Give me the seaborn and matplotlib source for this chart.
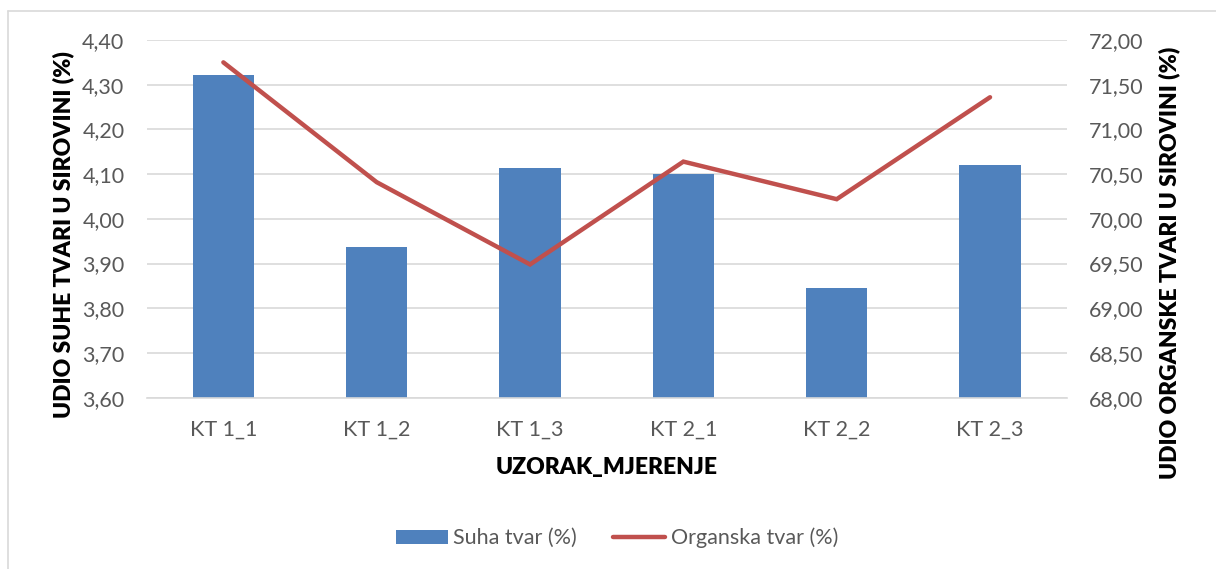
import numpy as np
import matplotlib
matplotlib.use('Agg')
import matplotlib.pyplot as plt
import pandas as pd
import seaborn as sns
from matplotlib.patches import Patch
from matplotlib.lines import Line2D
from matplotlib.ticker import FuncFormatter, MultipleLocator

# --- DATA ---
uzorci = ['KT 1_1', 'KT 1_2', 'KT 1_3', 'KT 2_1', 'KT 2_2', 'KT 2_3']
suha_tvar = [4.321, 3.936, 4.113, 4.101, 3.846, 4.121]
organska_tvar = [71.75, 70.41, 69.49, 70.64, 70.22, 71.36]

df = pd.DataFrame({'Uzorak': uzorci, 'Suha': suha_tvar, 'Organska': organska_tvar})

# Colors (Excel default palette)
COLOR_BAR = '#4F81BD'
COLOR_LINE = '#C0504D'
COLOR_GRID = '#D9D9D9'
COLOR_TEXT = '#595959'
FS_TICK = 15.5
FS_LABEL = 16.5

sns.set_style('white')
plt.rcParams['font.family'] = ['Lato', 'DejaVu Sans']

fig = plt.figure(figsize=(12.16, 5.69), dpi=100)
ax = fig.add_axes([146.7 / 1216, 1 - 397.7 / 569, 920 / 1216, 357.7 / 569])

sns.barplot(data=df, x='Uzorak', y='Suha', color=COLOR_BAR, width=0.4,
            saturation=1, edgecolor='none', ax=ax, zorder=2)

ax2 = ax.twinx()
sns.pointplot(data=df, x='Uzorak', y='Organska', color=COLOR_LINE, markers='',
              linewidth=3.2, ax=ax2)
for ln in ax2.lines:
    ln.set_solid_capstyle('round')
    ln.set_solid_joinstyle('miter')

# --- AXES ---
comma = FuncFormatter(lambda v, p: f"{v:.2f}".replace('.', ','))
ax.set_ylim(3.6, 4.4)
ax.yaxis.set_major_locator(MultipleLocator(0.1))
ax.yaxis.set_major_formatter(comma)
ax2.set_ylim(68, 72)
ax2.yaxis.set_major_locator(MultipleLocator(0.5))
ax2.yaxis.set_major_formatter(comma)
ax.set_xlim(-0.5, 5.5)

ax.yaxis.grid(True, color=COLOR_GRID, lw=1.2, zorder=0)
ax.set_axisbelow(True)
ax2.grid(False)
for a in (ax, ax2):
    for s in a.spines.values():
        s.set_visible(False)
ax.spines['bottom'].set_visible(True)
ax.spines['bottom'].set_color(COLOR_GRID)
ax.spines['bottom'].set_linewidth(1.2)

ax.tick_params(axis='both', length=0, labelsize=FS_TICK, labelcolor=COLOR_TEXT, pad=16)
ax2.tick_params(axis='y', length=0, labelsize=FS_TICK, labelcolor=COLOR_TEXT, pad=16)
ax.tick_params(axis='x', pad=16)

ax.set_xlabel('UZORAK_MJERENJE', fontsize=FS_LABEL, fontweight='heavy', color='black', va='center')
ax.xaxis.set_label_coords(0.5, -0.194)
ax.set_ylabel('UDIO SUHE TVARI U SIROVINI (%)', fontsize=FS_LABEL, fontweight='heavy',
              color='black', va='center')
ax.yaxis.set_label_coords(-0.091, 0.455)
ax2.set_ylabel('UDIO ORGANSKE TVARI U SIROVINI (%)', fontsize=FS_LABEL, fontweight='heavy',
               color='black', va='center', rotation=90)
ax2.yaxis.set_label_coords(1.111, 0.377)

# --- LEGEND ---
handles = [Patch(facecolor=COLOR_BAR, edgecolor='none', label='Suha tvar (%)'),
           Line2D([0], [0], color=COLOR_LINE, lw=3.2, solid_capstyle='round',
                  label='Organska tvar (%)')]
fig.legend(handles=handles, loc='center', bbox_to_anchor=(617 / 1216, 1 - 538 / 569),
           ncol=2, frameon=False, fontsize=FS_TICK, labelcolor=COLOR_TEXT,
           handlelength=2.4, handleheight=0.65, handletextpad=0.25, columnspacing=1.7)

# chart border (only left and top edges are visible in the crop)
fig.add_artist(Line2D([7.5 / 1216, 7.5 / 1216], [0, 1 - 10.5 / 569], color=COLOR_GRID, lw=1.2))
fig.add_artist(Line2D([7.5 / 1216, 1], [1 - 10.5 / 569, 1 - 10.5 / 569], color=COLOR_GRID, lw=1.2))

plt.savefig('out.png', dpi=100)
